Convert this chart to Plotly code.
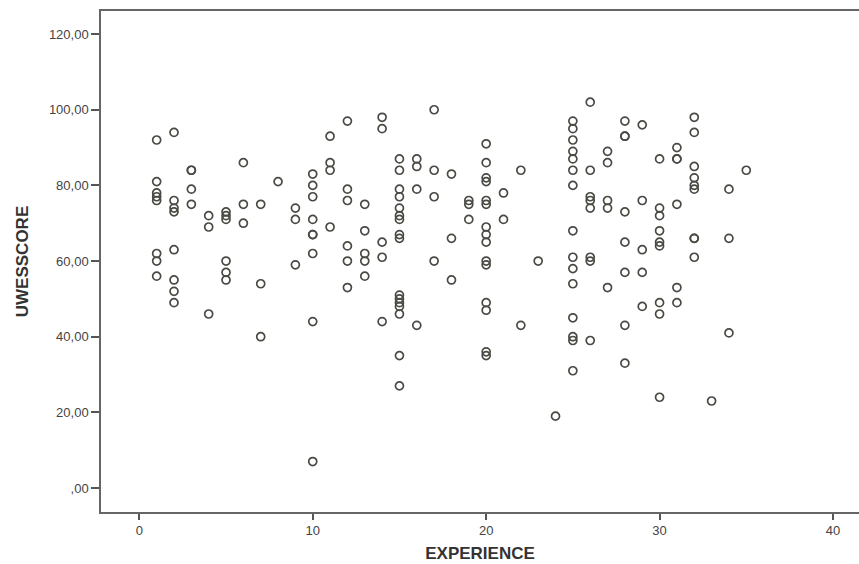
import plotly.graph_objects as go

experience = (
    [1] * 8 + [2] * 8 + [3] * 4 + [4] * 3 + [5] * 6 + [6] * 3 + [7] * 3 + [8] * 1 +
    [9] * 3 + [10] * 9 + [11] * 4 + [12] * 6 + [13] * 5 + [14] * 5 + [15] * 16 +
    [16] * 4 + [17] * 4 + [18] * 3 + [19] * 3 + [20] * 15 + [21] * 2 + [22] * 2 +
    [23] * 1 + [24] * 1 + [25] * 15 + [26] * 8 + [27] * 5 + [28] * 8 + [29] * 5 +
    [30] * 9 + [31] * 6 + [32] * 9 + [33] * 1 + [34] * 3 + [35] * 1
)

uwesscore = [
    92, 81, 78, 77, 76, 62, 60, 56,
    94, 76, 74, 73, 63, 55, 52, 49,
    84, 84, 79, 75,
    72, 69, 46,
    73, 72, 71, 60, 57, 55,
    86, 75, 70,
    75, 54, 40,
    81,
    74, 71, 59,
    83, 80, 77, 71, 67, 67, 62, 44, 7,
    93, 86, 84, 69,
    97, 79, 76, 64, 60, 53,
    75, 68, 62, 60, 56,
    98, 95, 65, 61, 44,
    87, 84, 79, 77, 74, 72, 71, 67, 66, 51, 50, 49, 48, 46, 35, 27,
    87, 85, 79, 43,
    100, 84, 77, 60,
    83, 66, 55,
    76, 75, 71,
    91, 86, 82, 81, 76, 75, 69, 67, 65, 60, 59, 49, 47, 36, 35,
    78, 71,
    84, 43,
    60,
    19,
    97, 95, 92, 89, 87, 84, 80, 68, 61, 58, 54, 45, 40, 39, 31,
    102, 84, 77, 76, 74, 61, 60, 39,
    89, 86, 76, 74, 53,
    97, 93, 93, 73, 65, 57, 43, 33,
    96, 76, 63, 57, 48,
    87, 74, 72, 68, 65, 64, 49, 46, 24,
    90, 87, 87, 75, 53, 49,
    98, 94, 85, 82, 80, 79, 66, 66, 61,
    23,
    79, 66, 41,
    84,
]

x_ticks = [0, 10, 20, 30, 40]
y_ticks = [0, 20, 40, 60, 80, 100, 120]
y_tick_labels = [",00", "20,00", "40,00", "60,00", "80,00", "100,00", "120,00"]

fig = go.Figure(
    go.Scatter(
        x=experience,
        y=uwesscore,
        mode="markers",
        marker=dict(symbol="circle-open", size=8, color="#4a4a44",
                    line=dict(width=1.7, color="#4a4a44")),
        hoverinfo="x+y",
    )
)

fig.update_layout(
    width=859,
    height=564,
    margin=dict(l=101, r=0, t=11, b=52),
    paper_bgcolor="white",
    plot_bgcolor="white",
    showlegend=False,
    font=dict(family="Arial, Liberation Sans, sans-serif", color="#444444"),
)

fig.update_xaxes(
    range=[-2.21, 41.5],
    tickvals=x_ticks,
    ticktext=[str(v) for v in x_ticks],
    ticks="outside",
    ticklen=6,
    tickwidth=1.5,
    tickcolor="#555555",
    showline=True,
    linecolor="#666666",
    linewidth=1.5,
    mirror=True,
    showgrid=False,
    zeroline=False,
    tickfont=dict(size=13, color="#444444"),
    title=dict(text="<b>EXPERIENCE</b>", font=dict(size=17, color="#333333"), standoff=10),
)

fig.update_yaxes(
    range=[-6.34, 126.1],
    tickvals=y_ticks,
    ticktext=y_tick_labels,
    ticks="outside",
    ticklen=8,
    tickwidth=1.5,
    tickcolor="#555555",
    showline=True,
    linecolor="#666666",
    linewidth=1.5,
    mirror=False,
    showgrid=False,
    zeroline=False,
    tickfont=dict(size=13, color="#444444"),
    title=dict(text="<b>UWESSCORE</b>", font=dict(size=17, color="#333333"), standoff=16),
)

fig.write_html("out.html")
